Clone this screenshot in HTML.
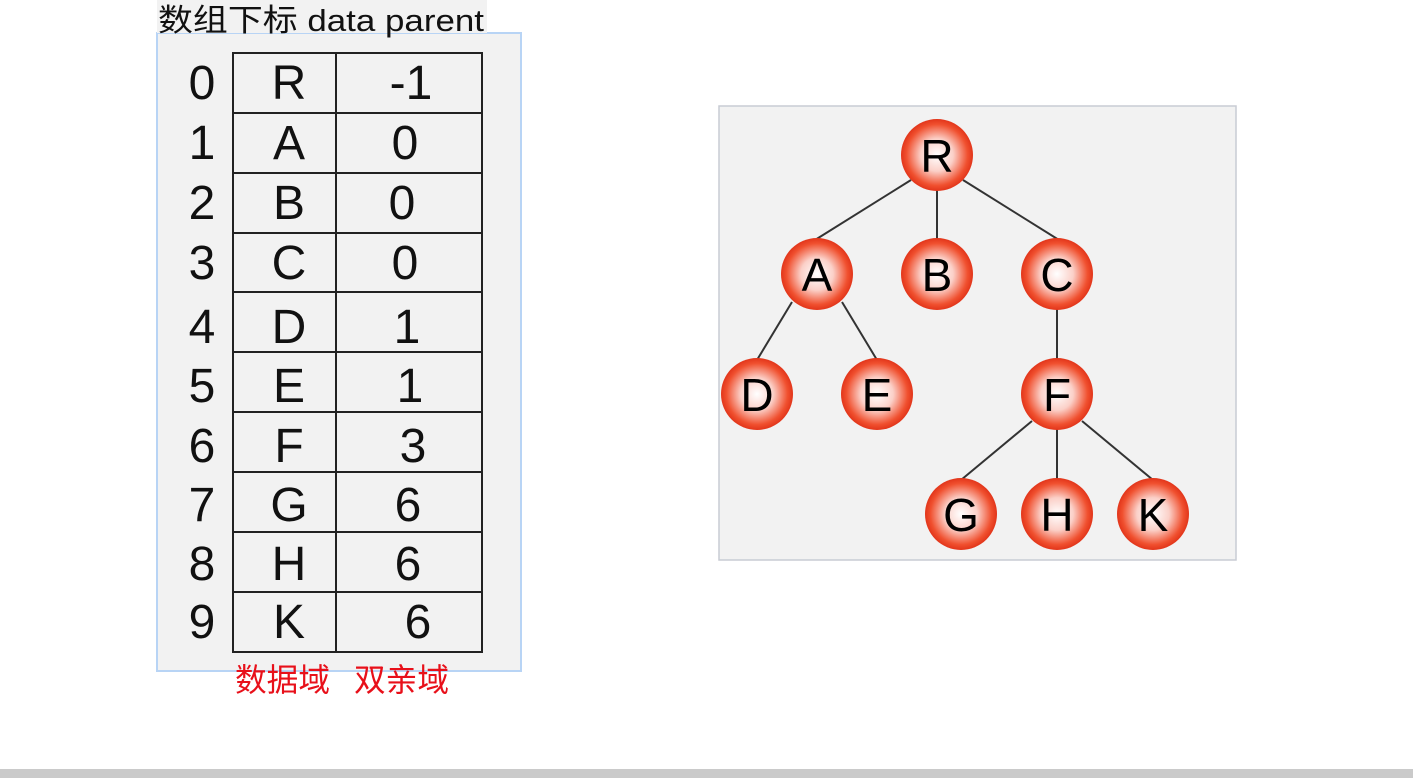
<!DOCTYPE html>
<html><head><meta charset="utf-8"><style>
html,body{margin:0;padding:0;background:#fff;width:1413px;height:778px;overflow:hidden}
</style></head><body>
<svg width="1413" height="778" xmlns="http://www.w3.org/2000/svg" style="position:absolute;left:0;top:0">
<defs>
<radialGradient id="g" cx="50%" cy="50%" r="50%">
<stop offset="0" stop-color="#ffffff"/>
<stop offset="0.45" stop-color="#fbd0c8"/>
<stop offset="0.85" stop-color="#f0502f"/>
<stop offset="1" stop-color="#e2351a"/>
</radialGradient>
</defs>
<rect x="157" y="33" width="364" height="638" fill="#f2f2f2" stroke="#b8d4f5" stroke-width="2"/>
<rect x="157" y="0" width="330" height="33" fill="#f2f2f2"/>
<text x="158" y="31" font-family="Liberation Sans, Noto Sans CJK SC, sans-serif" font-size="31" fill="#111" textLength="326" lengthAdjust="spacingAndGlyphs">数组下标 data parent</text>
<g stroke="#222" stroke-width="2" fill="none">
<rect x="233" y="53" width="249" height="599"/>
<line x1="336" y1="53" x2="336" y2="652"/>
<line x1="233" y1="113" x2="482" y2="113"/>
<line x1="233" y1="173" x2="482" y2="173"/>
<line x1="233" y1="233" x2="482" y2="233"/>
<line x1="233" y1="292" x2="482" y2="292"/>
<line x1="233" y1="352" x2="482" y2="352"/>
<line x1="233" y1="412" x2="482" y2="412"/>
<line x1="233" y1="472" x2="482" y2="472"/>
<line x1="233" y1="532" x2="482" y2="532"/>
<line x1="233" y1="592" x2="482" y2="592"/>
</g>
<g font-family="Liberation Sans, sans-serif" font-size="48" fill="#111" text-anchor="middle">
<text x="202" y="99">0</text><text x="289" y="99">R</text><text x="411" y="99">-1</text>
<text x="202" y="159">1</text><text x="289" y="159">A</text><text x="405" y="159">0</text>
<text x="202" y="219">2</text><text x="289" y="219">B</text><text x="402" y="219">0</text>
<text x="202" y="279">3</text><text x="289" y="279">C</text><text x="405" y="279">0</text>
<text x="202" y="343">4</text><text x="289" y="343">D</text><text x="407" y="343">1</text>
<text x="202" y="402">5</text><text x="289" y="402">E</text><text x="410" y="402">1</text>
<text x="202" y="462">6</text><text x="289" y="462">F</text><text x="413" y="462">3</text>
<text x="202" y="521">7</text><text x="289" y="521">G</text><text x="408" y="521">6</text>
<text x="202" y="580">8</text><text x="289" y="580">H</text><text x="408" y="580">6</text>
<text x="202" y="638">9</text><text x="289" y="638">K</text><text x="418" y="638">6</text>
</g>
<g font-family="Liberation Sans, Noto Sans CJK SC, sans-serif" font-size="32" fill="#e8101a">
<text x="235" y="691" textLength="95" lengthAdjust="spacingAndGlyphs">数据域</text><text x="354" y="691" textLength="95" lengthAdjust="spacingAndGlyphs">双亲域</text>
</g>
<rect x="719" y="106" width="517" height="454" fill="#f2f2f2" stroke="#c8ccd4" stroke-width="1.5"/>
<g stroke="#333" stroke-width="2">
<line x1="911" y1="180" x2="815" y2="240"/>
<line x1="937" y1="190" x2="937" y2="240"/>
<line x1="963" y1="180" x2="1059" y2="240"/>
<line x1="792" y1="302" x2="757" y2="360"/>
<line x1="842" y1="302" x2="877" y2="360"/>
<line x1="1057" y1="308" x2="1057" y2="360"/>
<line x1="1032" y1="421" x2="961" y2="480"/>
<line x1="1057" y1="428" x2="1057" y2="480"/>
<line x1="1082" y1="421" x2="1153" y2="480"/>
</g>
<g fill="url(#g)">
<circle cx="937" cy="155" r="36"/>
<circle cx="817" cy="274" r="36"/><circle cx="937" cy="274" r="36"/><circle cx="1057" cy="274" r="36"/>
<circle cx="757" cy="394" r="36"/><circle cx="877" cy="394" r="36"/><circle cx="1057" cy="394" r="36"/>
<circle cx="961" cy="514" r="36"/><circle cx="1057" cy="514" r="36"/><circle cx="1153" cy="514" r="36"/>
</g>
<g font-family="Liberation Sans, sans-serif" font-size="46" fill="#000" text-anchor="middle">
<text x="937" y="172">R</text>
<text x="817" y="291">A</text><text x="937" y="291">B</text><text x="1057" y="291">C</text>
<text x="757" y="411">D</text><text x="877" y="411">E</text><text x="1057" y="411">F</text>
<text x="961" y="531">G</text><text x="1057" y="531">H</text><text x="1153" y="531">K</text>
</g>
<rect x="0" y="769" width="1413" height="9" fill="#cacaca"/>
</svg>
</body></html>
